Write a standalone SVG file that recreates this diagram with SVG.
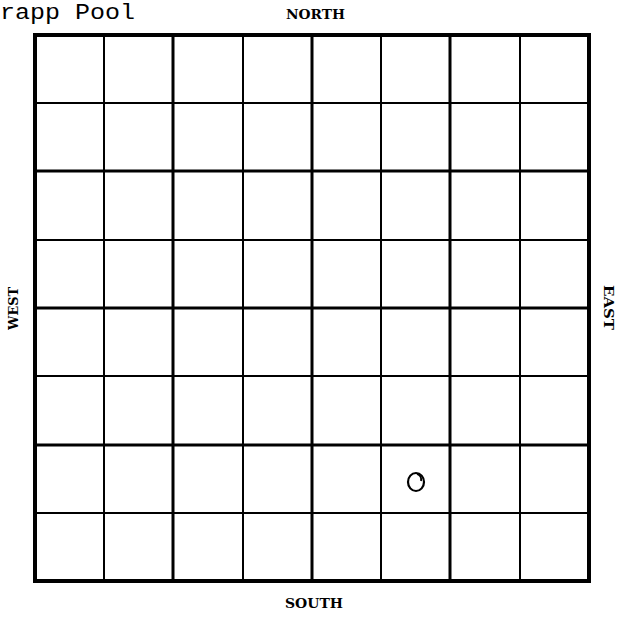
<svg xmlns="http://www.w3.org/2000/svg" width="625" height="623" viewBox="0 0 625 623">
<style>
.thin{stroke:#000;stroke-width:2;fill:none}
.thick{stroke:#000;stroke-width:3;fill:none}
.border{stroke:#000;stroke-width:4;fill:none}
.lbl{font-family:"DejaVu Serif","Liberation Serif",serif;font-weight:bold;font-size:12px;fill:#000}
.title{font-family:"Liberation Mono","DejaVu Sans Mono",monospace;font-size:22px;fill:#000}
</style>
<rect width="625" height="623" fill="#fff"/>
<text class="title" x="0" y="19" textLength="135" lengthAdjust="spacingAndGlyphs">rapp Pool</text>
<text class="lbl" x="286" y="19" textLength="59" lengthAdjust="spacingAndGlyphs">NORTH</text>
<text class="lbl" x="285" y="608" textLength="58" lengthAdjust="spacingAndGlyphs" font-size="13">SOUTH</text>
<text class="lbl" transform="translate(18,330) rotate(-90)" textLength="43" lengthAdjust="spacingAndGlyphs" font-size="14">WEST</text>
<text class="lbl" transform="translate(604,285) rotate(90)" textLength="45" lengthAdjust="spacingAndGlyphs" font-size="14">EAST</text>
<g id="grid">
<line class="thin" x1="104" y1="35" x2="104" y2="581"/>
<line class="thick" x1="173" y1="35" x2="173" y2="581"/>
<line class="thin" x1="243" y1="35" x2="243" y2="581"/>
<line class="thick" x1="312" y1="35" x2="312" y2="581"/>
<line class="thin" x1="381" y1="35" x2="381" y2="581"/>
<line class="thick" x1="450" y1="35" x2="450" y2="581"/>
<line class="thin" x1="520" y1="35" x2="520" y2="581"/>
<line class="thin" x1="35" y1="103" x2="589" y2="103"/>
<line class="thick" x1="35" y1="171" x2="589" y2="171"/>
<line class="thin" x1="35" y1="240" x2="589" y2="240"/>
<line class="thick" x1="35" y1="308" x2="589" y2="308"/>
<line class="thin" x1="35" y1="376" x2="589" y2="376"/>
<line class="thick" x1="35" y1="445" x2="589" y2="445"/>
<line class="thin" x1="35" y1="513" x2="589" y2="513"/>
<rect class="border" x="35" y="35" width="554" height="546"/>
</g>
<g id="marker">
<ellipse cx="416" cy="482" rx="8" ry="9" stroke="#000" stroke-width="2.2" fill="none"/>
<path d="M417 474 Q422 476 421 481" stroke="#000" stroke-width="1.8" fill="none"/>
</g>
</svg>
